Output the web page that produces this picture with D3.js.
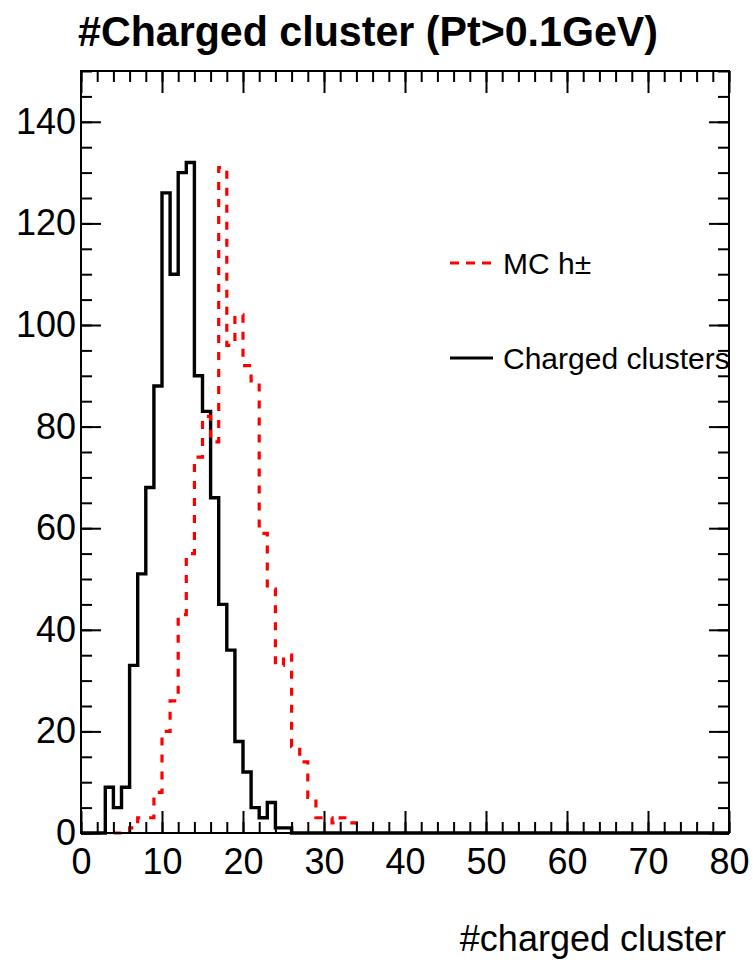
<!DOCTYPE html>
<html>
<head>
<meta charset="utf-8">
<script src="https://cdn.jsdelivr.net/npm/d3@7"></script>
<style>
body { margin: 0; background: #fff; }
</style>
</head>
<body>
<div id="chart"></div>
<script>
// histogram contents, bin width 1, first filled bin given by *Start
var chargedStart = 3;
var chargedCounts = [9, 5, 9, 33, 51, 68, 88, 126, 110, 130, 132, 90, 83, 66, 45, 36, 18, 12, 5, 3, 6, 1, 1];
var mcStart = 6;
var mcCounts = [1, 3, 3, 8, 20, 26, 43, 55, 74, 82, 77, 131, 96, 102, 92, 89, 59, 48, 33, 35, 17, 14, 7, 3, 3, 2, 3, 2];

var xTicks = [0, 10, 20, 30, 40, 50, 60, 70, 80];
var yTicks = [0, 20, 40, 60, 80, 100, 120, 140];
var legendLabels = ["MC h\u00b1", "Charged clusters"];
var titleText = "#Charged cluster (Pt>0.1GeV)";
var xTitle = "#charged cluster";

function init() {
    var w = 753;
    var h = 960;

    var svg = d3.select("#chart")
        .append("svg")
        .attr("width", w)
        .attr("height", h);

    var x = d3.scaleLinear().domain([0, 80]).range([81, 729]);
    var y = d3.scaleLinear().domain([0, 150]).range([833, 71]);

    // step outline; from/to set how far the baseline runs
    function stepPoints(start, counts, from, to) {
        var pts = [[from, 0], [start, 0]];
        counts.forEach(function (c, i) {
            pts.push([start + i, c]);
            pts.push([start + i + 1, c]);
        });
        pts.push([start + counts.length, 0]);
        pts.push([to, 0]);
        return pts;
    }

    var line = d3.line()
        .x(function (d) { return x(d[0]); })
        .y(function (d) { return y(d[1]); });

    svg.append("path")
        .attr("d", line(stepPoints(chargedStart, chargedCounts, 0, 80)))
        .attr("fill", "none")
        .attr("stroke", "#000")
        .attr("stroke-width", 3.4);

    svg.append("path")
        .attr("d", line(stepPoints(mcStart, mcCounts, mcStart - 2, mcStart + mcCounts.length)))
        .attr("fill", "none")
        .attr("stroke", "#ff0000")
        .attr("stroke-width", 3.2)
        .attr("stroke-dasharray", "8,9");

    // frame
    svg.append("rect")
        .attr("x", x(0))
        .attr("y", y(150))
        .attr("width", x(80) - x(0))
        .attr("height", y(0) - y(150))
        .attr("fill", "none")
        .attr("stroke", "#000")
        .attr("stroke-width", 2);

    var xMinor = d3.range(0, 81, 2);
    var yMinor = d3.range(0, 151, 5);

    function styleAxis(g) {
        g.select(".domain").remove();
        g.selectAll(".tick line").attr("stroke", "#000").attr("stroke-width", 2);
    }

    // bottom
    svg.append("g")
        .attr("transform", "translate(0," + y(0) + ")")
        .call(d3.axisBottom(x).tickValues(xMinor).tickFormat("").tickSize(-11))
        .call(styleAxis);
    svg.append("g")
        .attr("transform", "translate(0," + y(0) + ")")
        .call(d3.axisBottom(x).tickValues(xTicks).tickFormat(d3.format("d")).tickSize(-22).tickPadding(15))
        .call(styleAxis)
        .selectAll("text")
        .attr("font-family", "Liberation Sans, Arial, sans-serif")
        .attr("font-size", 36)
        .attr("fill", "#000");

    // top
    svg.append("g")
        .attr("transform", "translate(0," + y(150) + ")")
        .call(d3.axisTop(x).tickValues(xMinor).tickFormat("").tickSize(-11))
        .call(styleAxis);
    svg.append("g")
        .attr("transform", "translate(0," + y(150) + ")")
        .call(d3.axisTop(x).tickValues(xTicks).tickFormat("").tickSize(-22))
        .call(styleAxis);

    // left
    svg.append("g")
        .attr("transform", "translate(" + x(0) + ",0)")
        .call(d3.axisLeft(y).tickValues(yMinor).tickFormat("").tickSize(-11))
        .call(styleAxis);
    svg.append("g")
        .attr("transform", "translate(" + x(0) + ",0)")
        .call(d3.axisLeft(y).tickValues(yTicks).tickFormat(d3.format("d")).tickSize(-20).tickPadding(5))
        .call(styleAxis)
        .selectAll("text")
        .attr("font-family", "Liberation Sans, Arial, sans-serif")
        .attr("font-size", 36)
        .attr("fill", "#000");

    // right
    svg.append("g")
        .attr("transform", "translate(" + x(80) + ",0)")
        .call(d3.axisRight(y).tickValues(yMinor).tickFormat("").tickSize(-11))
        .call(styleAxis);
    svg.append("g")
        .attr("transform", "translate(" + x(80) + ",0)")
        .call(d3.axisRight(y).tickValues(yTicks).tickFormat("").tickSize(-20))
        .call(styleAxis);

    // legend
    var legend = svg.append("g");
    var legendY = [263, 358];
    var legendStyles = [
        { color: "#ff0000", dash: "9,7" },
        { color: "#000", dash: null }
    ];
    legendLabels.forEach(function (label, i) {
        legend.append("line")
            .attr("x1", 450).attr("x2", 493)
            .attr("y1", legendY[i]).attr("y2", legendY[i])
            .attr("stroke", legendStyles[i].color)
            .attr("stroke-width", 3.2)
            .attr("stroke-dasharray", legendStyles[i].dash);
        legend.append("text")
            .attr("x", 503)
            .attr("y", legendY[i] + 11)
            .attr("font-family", "Liberation Sans, Arial, sans-serif")
            .attr("font-size", 30)
            .attr("fill", "#000")
            .text(label);
    });

    // title
    svg.append("text")
        .attr("x", 78)
        .attr("y", 46)
        .attr("font-family", "Liberation Sans Narrow, Arial Narrow, Liberation Sans, sans-serif")
        .attr("font-weight", "bold")
        .attr("font-size", 42)
        .attr("textLength", 580)
        .attr("lengthAdjust", "spacingAndGlyphs")
        .attr("fill", "#000")
        .text(titleText);

    // x axis title
    svg.append("text")
        .attr("x", 726)
        .attr("y", 951)
        .attr("text-anchor", "end")
        .attr("font-family", "Liberation Sans, Arial, sans-serif")
        .attr("font-size", 36)
        .attr("fill", "#000")
        .text(xTitle);
}

window.onload = init;
</script>
</body>
</html>
